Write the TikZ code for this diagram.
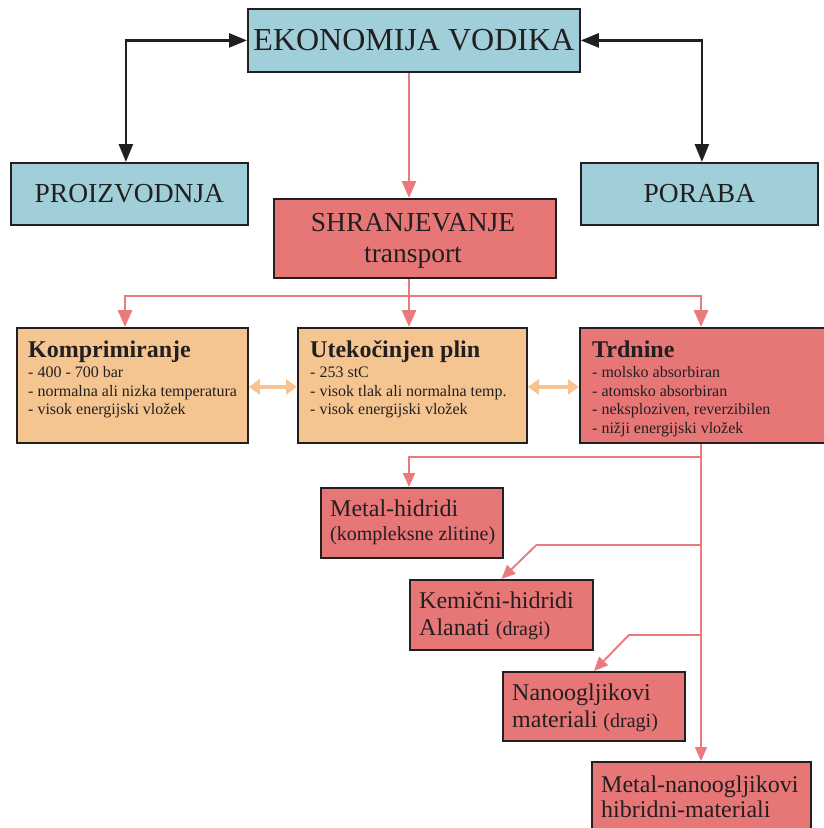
\documentclass[tikz,border=0pt]{standalone}
\usepackage{fontspec}
\setmainfont{Liberation Serif}
\usetikzlibrary{arrows.meta}

\definecolor{ink}{RGB}{35,31,32}
\definecolor{bluefill}{RGB}{160,207,217}
\definecolor{redfill}{RGB}{231,118,119}
\definecolor{orangefill}{RGB}{245,197,145}
\definecolor{pinkline}{RGB}{235,122,125}
\definecolor{orangeline}{RGB}{247,196,145}

\newcommand\setfs[2]{\fontsize{#1}{#2}\selectfont}

\begin{document}
\begin{tikzpicture}[x=1pt,y=-1pt,
  every node/.append style={text=ink},
  box/.style={draw=ink,line width=1.8pt,rectangle,inner sep=0pt,anchor=north west},
  bluebox/.style={box,fill=bluefill},
  redbox/.style={box,fill=redfill},
  orangebox/.style={box,fill=orangefill},
  txt/.style={inner sep=0pt,anchor=north west,align=left},
  blk/.style={draw=ink,line width=2.6pt,
    {Triangle[length=18pt,width=14pt]}-{Triangle[length=18pt,width=14pt]}},
  pk/.style={draw=pinkline,line width=2.8pt},
  pkA/.style={pk,-{Triangle[length=17pt,width=14pt]}},
  pkb/.style={draw=pinkline,line width=1.9pt},
  pkbA/.style={pkb,-{Triangle[length=14pt,width=12pt]}},
  orarrow/.style={draw=orangeline,line width=4pt,
    {Triangle[length=11pt,width=15pt]}-{Triangle[length=11pt,width=15pt]}}]

\useasboundingbox (0,0) rectangle (823,828);

% columns used by the connectors
\coordinate (colL) at (125,0);
\coordinate (colM) at (409,0);
\coordinate (colR) at (701,0);
\coordinate (bus) at (409,296);
\coordinate (b1) at (701,457);
\coordinate (b2) at (701,545);
\coordinate (b3) at (701,635);

% top level
\node[bluebox,minimum width=332pt,minimum height=63pt,font=\setfs{32}{38}] (eko) at (247,8) {EKONOMIJA VODIKA};
\node[bluebox,minimum width=237pt,minimum height=62pt,font=\setfs{27.5}{31}] (proiz) at (10,162) {PROIZVODNJA};
\node[bluebox,minimum width=237pt,minimum height=62pt,font=\setfs{27.5}{31}] (poraba) at (580,162) {PORABA};
\node[redbox,minimum width=282pt,minimum height=79pt] (shran) at (273,198) {};
\node[inner sep=0pt,anchor=north,align=center,font=\setfs{27.5}{31}] (shran-t) at (413,211)
  {\rule{0pt}{20pt}SHRANJEVANJE\\transport};

% storage methods
\node[orangebox,minimum width=231pt,minimum height=115pt] (kompr) at (16,327) {};
\node[orangebox,minimum width=229pt,minimum height=115pt] (utek) at (297,327) {};
\node[redbox,minimum width=260pt,minimum height=115pt] (trd) at (579,327) {};

\node[txt,font=\setfs{16}{18.5}] (kompr-t) at (28,337)
  {{\bfseries\setfs{24}{28}\rule{0pt}{20pt}Komprimiranje}\\[2pt]
   - 400 - 700 bar\\
   - normalna ali nizka temperatura\\
   - visok energijski vložek};
\node[txt,font=\setfs{16}{18.5}] (utek-t) at (310,337)
  {{\bfseries\setfs{24}{28}\rule{0pt}{20pt}Utekočinjen plin}\\[2pt]
   - 253 stC\\
   - visok tlak ali normalna temp.\\
   - visok energijski vložek};
\node[txt,font=\setfs{16}{18.7}] (trd-t) at (592,337)
  {{\bfseries\setfs{24}{28}\rule{0pt}{20pt}Trdnine}\\[1.5pt]
   - molsko absorbiran\\
   - atomsko absorbiran\\
   - neksploziven, reverzibilen\\
   - nižji energijski vložek};

% solid storage materials
\node[redbox,minimum width=182pt,minimum height=70pt] (mhid) at (320,487) {};
\node[redbox,minimum width=183pt,minimum height=70pt] (kem) at (409,579) {};
\node[redbox,minimum width=182pt,minimum height=69pt] (nano) at (502,671) {};
\node[redbox,minimum width=219pt,minimum height=80pt] (mnano) at (591,761) {};

\node[txt,font=\setfs{24}{24}] (mhid-t) at (330,496)
  {\rule{0pt}{20pt}Metal-hidridi\\{\setfs{20}{24}(kompleksne zlitine)}};
\node[txt,font=\setfs{24}{27}] (kem-t) at (419,588)
  {\rule{0pt}{20pt}Kemični-hidridi\\Alanati {\setfs{20}{27}(dragi)}};
\node[txt,font=\setfs{24}{27}] (nano-t) at (512,680)
  {\rule{0pt}{20pt}Nanoogljikovi\\materiali {\setfs{20}{27}(dragi)}};
\node[txt,font=\setfs{24}{25.5}] (mnano-t) at (601,772)
  {\rule{0pt}{20pt}Metal-nanoogljikovi\\hibridni-materiali};

% black two-way links
\draw[blk] ([xshift=-3.5pt]proiz.north) |- (eko.west);
\draw[blk] (eko.east) -| ([xshift=2.5pt]poraba.north);

% storage branch
\draw[pkA] (eko.south -| colM) -- (shran.north -| colM);
\draw[pk] (shran.south -| colM) -- (bus);
\draw[pkA] (bus) -| (kompr.north -| colL);
\draw[pkA] (bus) -- (utek.north -| colM);
\draw[pkA] (bus) -| (trd.north -| colR);

% two-way links between methods
\draw[orarrow] ([yshift=-1.5pt]kompr.east) -- ([yshift=-1.5pt]utek.west);
\draw[orarrow] ([yshift=-1.5pt]utek.east) -- ([yshift=-1.5pt]trd.west);

% solid materials tree
\draw[pkbA] (trd.south -| colR) -- (mnano.north -| colR);
\draw[pkbA] (b1) -| (mhid.north -| colM);
\draw[pkbA] (b2) -- ([xshift=35pt,yshift=34pt]kem.north) -- (kem.north);
\draw[pkbA] (b3) -- ([xshift=35pt,yshift=36pt]nano.north) -- (nano.north);

\end{tikzpicture}
\end{document}
